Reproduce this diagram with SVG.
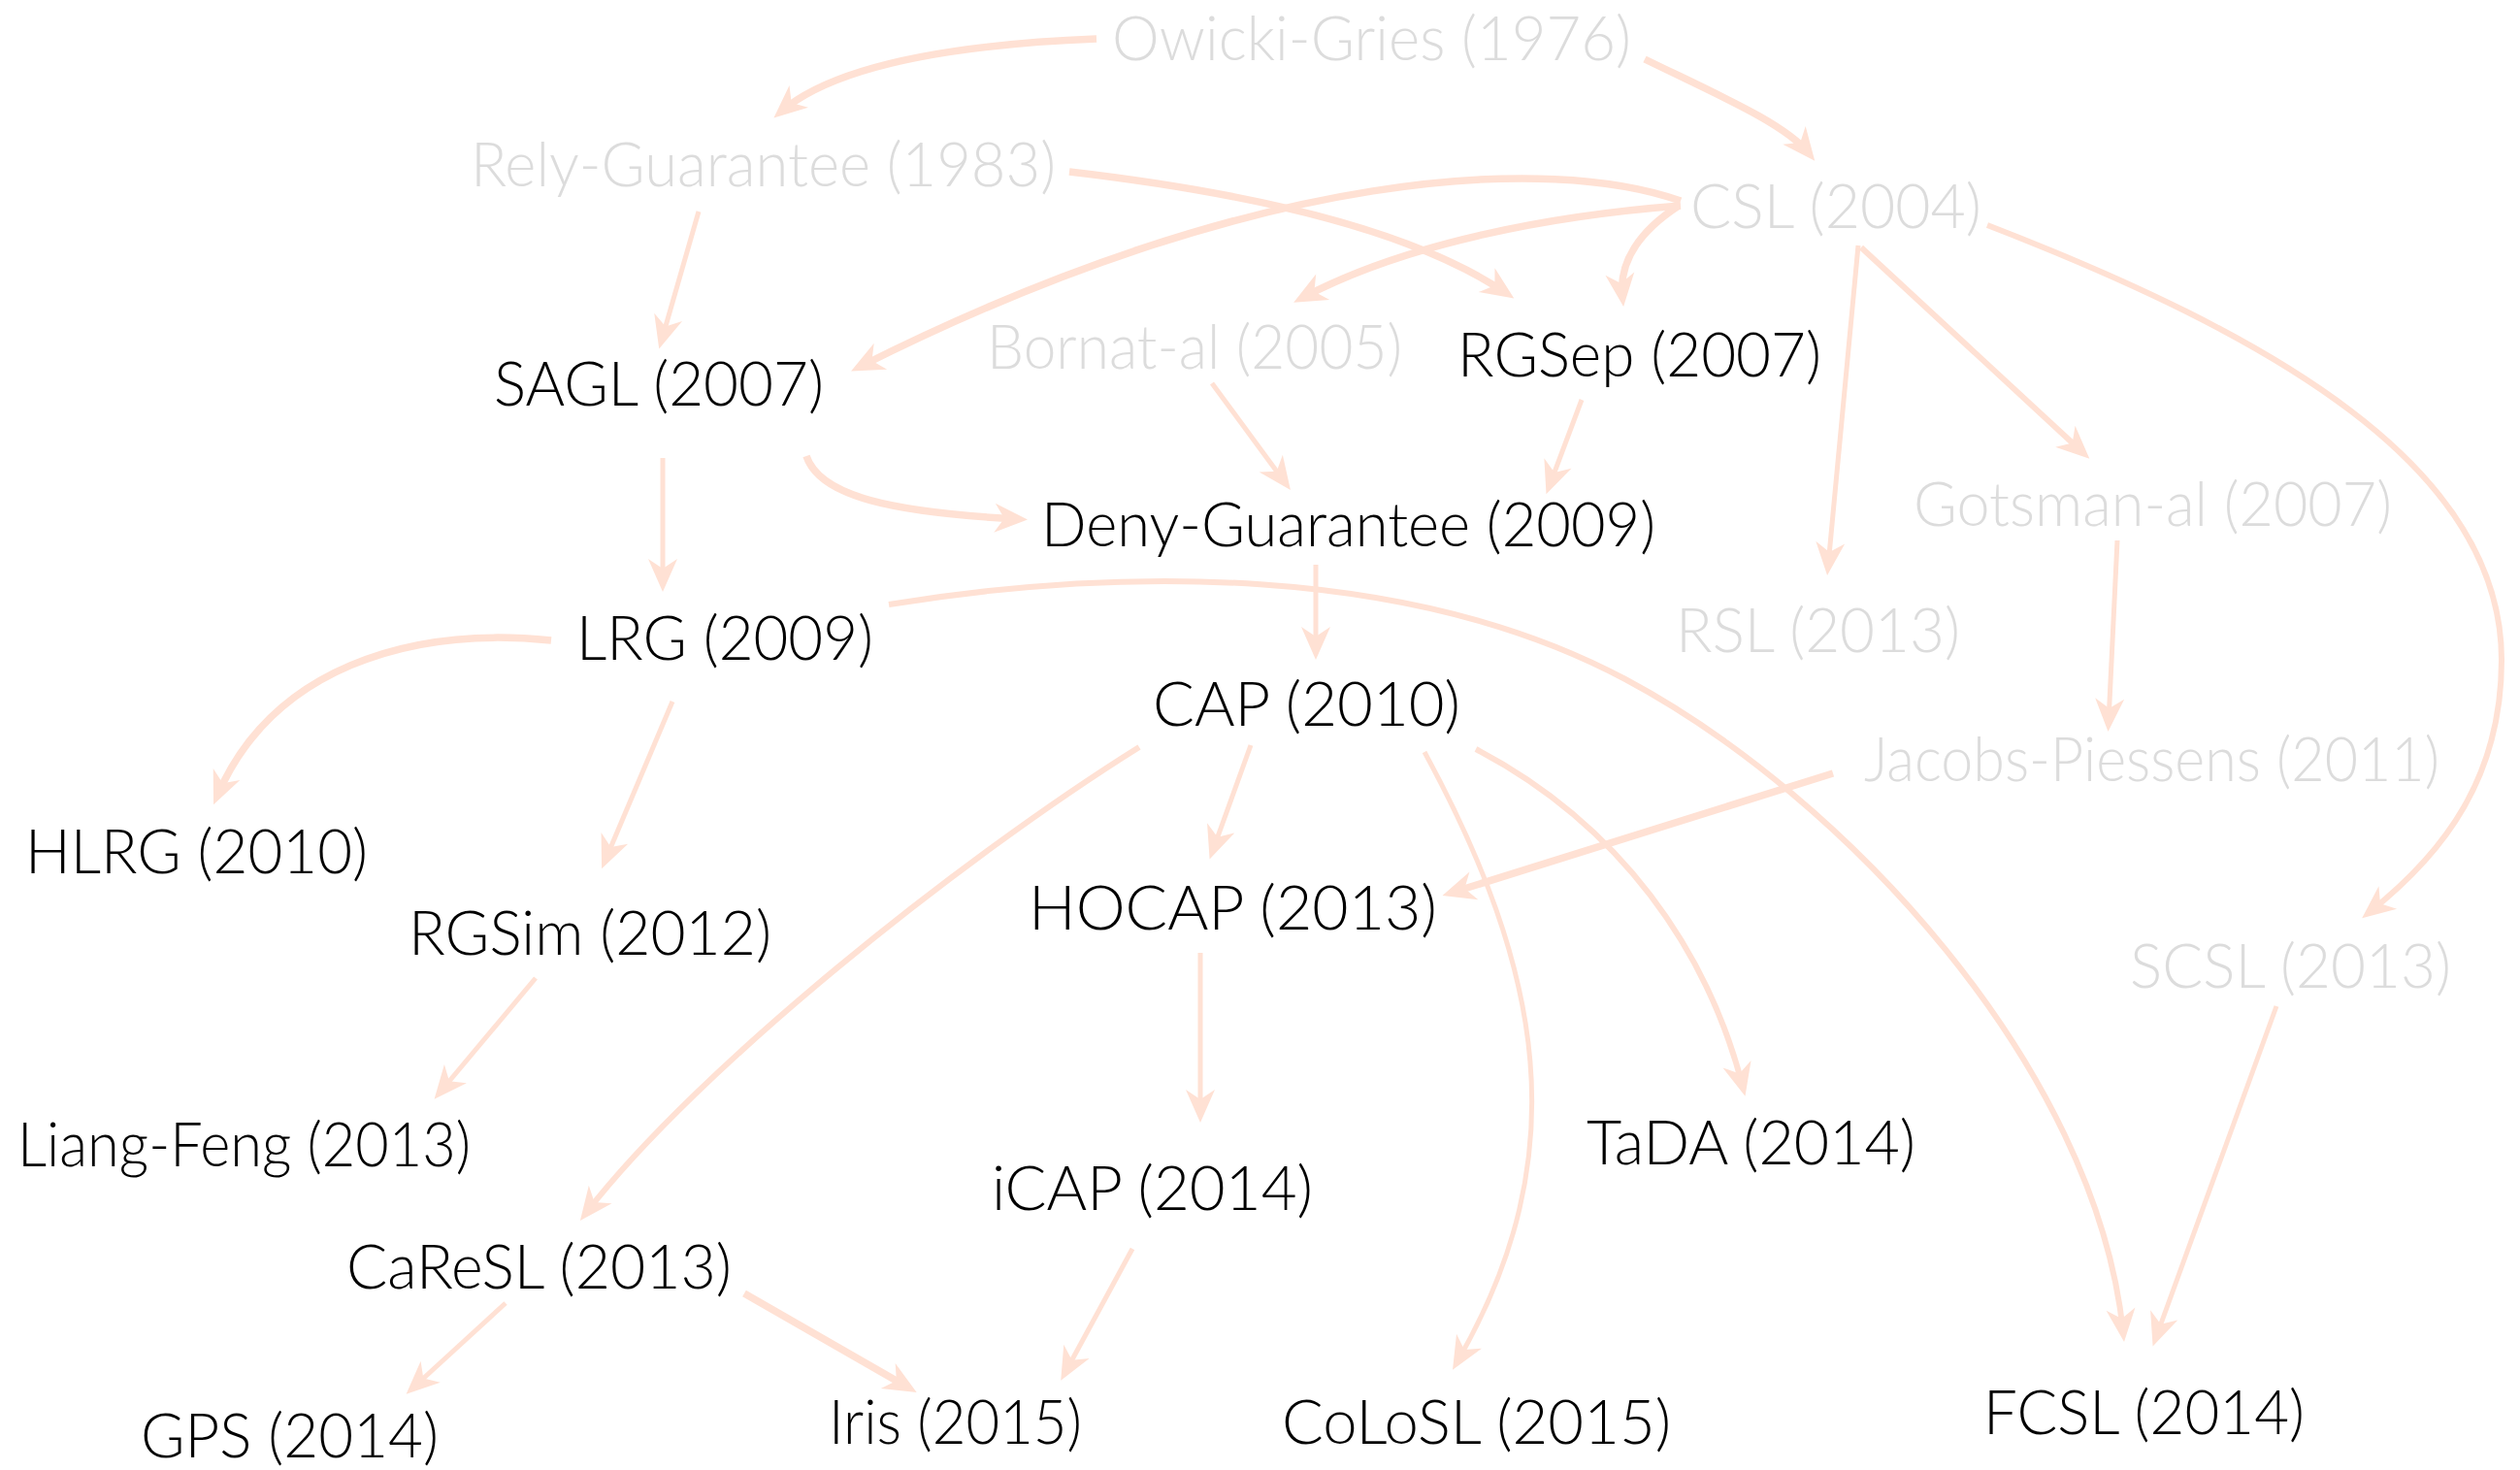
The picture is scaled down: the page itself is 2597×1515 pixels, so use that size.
<svg xmlns="http://www.w3.org/2000/svg" width="2597" height="1515" viewBox="0 0 2597 1515">
  <defs>
    <style>
      .lbl { font-family: "Lato", "Open Sans", "Liberation Sans", sans-serif; font-weight: 300; font-size: 63px; }
      .on { fill: #000000; }
      .off { fill: #DCDCDC; }
      .e { fill: none; stroke: #FFE1D4; stroke-linecap: butt; marker-end: url(#head); }
      .w1 { stroke-width: 5; }
      .w2 { stroke-width: 6; }
      .w3 { stroke-width: 7.5; }
    </style>
    <marker id="head" markerUnits="userSpaceOnUse" markerWidth="60" markerHeight="40" refX="30" refY="20" orient="auto">
      <path d="M40,20 L6,5 L16,20 L6,35 Z" fill="#FFE1D4"/>
    </marker>
  </defs>

  <rect x="0" y="0" width="2597" height="1515" fill="#FFFFFF"/>

  <!-- connectors -->
  <g id="edges">
    <path class="e w3" d="M1130,40 C980,46 860,68 805,115"/>
    <path class="e w3" d="M1695,61 C1775,100 1840,128 1864,158"/>
    <path class="e w3" d="M1102,177 C1300,200 1460,240 1552,302"/>
    <path class="e w3" d="M1732,207 C1600,160 1300,170 886,378"/>
    <path class="e w3" d="M1732,212 C1600,222 1450,250 1342,307"/>
    <path class="e w3" d="M1730,212 C1690,238 1668,270 1672,306"/>
    <path class="e w1" d="M1915,253 L1884,583"/>
    <path class="e w2" d="M1918,255 L2146,466"/>
    <path class="e w2" d="M2048,232 C2340,345 2578,480 2578,680 C2578,800 2520,878 2442,940"/>
    <path class="e w1" d="M1249,395 L1324,497"/>
    <path class="e w1" d="M1630,412 L1597,500"/>
    <path class="e w1" d="M720,218 L682,350"/>
    <path class="e w1" d="M683,472 L683,600"/>
    <path class="e w3" d="M831,470 C845,512 920,528 1049,535"/>
    <path class="e w1" d="M1356,582 L1356,670"/>
    <path class="e w2" d="M916,623 C1150,585 1450,580 1675,700 C1900,820 2160,1100 2188,1373"/>
    <path class="e w3" d="M568,660 C420,645 280,690 224,820"/>
    <path class="e w1" d="M693,723 L624,886"/>
    <path class="e w1" d="M1289,768 L1250,876"/>
    <path class="e w2" d="M1174,770 C990,885 720,1100 604,1250"/>
    <path class="e w1" d="M1468,775 C1590,1000 1625,1190 1502,1403"/>
    <path class="e w2" d="M1521,772 C1670,850 1760,980 1796,1120"/>
    <path class="e w3" d="M1889,797 L1496,920"/>
    <path class="e w1" d="M2182,557 L2173,744"/>
    <path class="e w1" d="M2346,1037 L2222,1378"/>
    <path class="e w1" d="M1237,982 L1237,1147"/>
    <path class="e w1" d="M552,1008 L454,1125"/>
    <path class="e w1" d="M1167,1287 L1098,1414"/>
    <path class="e w1" d="M521,1343 L426,1430"/>
    <path class="e w3" d="M767,1333 L936,1430"/>
  </g>

  <!-- nodes -->
  <g id="node-owicki-gries"><text class="lbl off" x="1146" y="62" textLength="535" lengthAdjust="spacingAndGlyphs">Owicki-Gries (1976)</text></g>
  <g id="node-rely-guarantee"><text class="lbl off" x="485" y="192" textLength="603" lengthAdjust="spacingAndGlyphs">Rely-Guarantee (1983)</text></g>
  <g id="node-csl"><text class="lbl off" x="1742" y="235" textLength="300" lengthAdjust="spacingAndGlyphs">CSL (2004)</text></g>
  <g id="node-sagl"><text class="lbl on" x="509" y="418" textLength="340" lengthAdjust="spacingAndGlyphs">SAGL (2007)</text></g>
  <g id="node-bornat-al"><text class="lbl off" x="1017" y="380" textLength="428" lengthAdjust="spacingAndGlyphs">Bornat-al (2005)</text></g>
  <g id="node-rgsep"><text class="lbl on" x="1502" y="388" textLength="375" lengthAdjust="spacingAndGlyphs">RGSep (2007)</text></g>
  <g id="node-deny-guarantee"><text class="lbl on" x="1073" y="563" textLength="633" lengthAdjust="spacingAndGlyphs">Deny-Guarantee (2009)</text></g>
  <g id="node-gotsman-al"><text class="lbl off" x="1972" y="542" textLength="493" lengthAdjust="spacingAndGlyphs">Gotsman-al (2007)</text></g>
  <g id="node-lrg"><text class="lbl on" x="594" y="680" textLength="306" lengthAdjust="spacingAndGlyphs">LRG (2009)</text></g>
  <g id="node-rsl"><text class="lbl off" x="1727" y="672" textLength="293" lengthAdjust="spacingAndGlyphs">RSL (2013)</text></g>
  <g id="node-cap"><text class="lbl on" x="1188" y="748" textLength="317" lengthAdjust="spacingAndGlyphs">CAP (2010)</text></g>
  <g id="node-jacobs-piessens"><text class="lbl off" x="1921" y="805" textLength="593" lengthAdjust="spacingAndGlyphs">Jacobs-Piessens (2011)</text></g>
  <g id="node-hlrg"><text class="lbl on" x="26" y="900" textLength="353" lengthAdjust="spacingAndGlyphs">HLRG (2010)</text></g>
  <g id="node-rgsim"><text class="lbl on" x="421" y="984" textLength="374" lengthAdjust="spacingAndGlyphs">RGSim (2012)</text></g>
  <g id="node-hocap"><text class="lbl on" x="1060" y="958" textLength="421" lengthAdjust="spacingAndGlyphs">HOCAP (2013)</text></g>
  <g id="node-scsl"><text class="lbl off" x="2195" y="1018" textLength="331" lengthAdjust="spacingAndGlyphs">SCSL (2013)</text></g>
  <g id="node-liang-feng"><text class="lbl on" x="18" y="1202" textLength="467" lengthAdjust="spacingAndGlyphs">Liang-Feng (2013)</text></g>
  <g id="node-tada"><text class="lbl on" x="1635" y="1200" textLength="339" lengthAdjust="spacingAndGlyphs">TaDA (2014)</text></g>
  <g id="node-icap"><text class="lbl on" x="1022" y="1247" textLength="331" lengthAdjust="spacingAndGlyphs">iCAP (2014)</text></g>
  <g id="node-caresl"><text class="lbl on" x="357" y="1328" textLength="397" lengthAdjust="spacingAndGlyphs">CaReSL (2013)</text></g>
  <g id="node-gps"><text class="lbl on" x="145" y="1502" textLength="307" lengthAdjust="spacingAndGlyphs">GPS (2014)</text></g>
  <g id="node-iris"><text class="lbl on" x="854" y="1488" textLength="261" lengthAdjust="spacingAndGlyphs">Iris (2015)</text></g>
  <g id="node-colosl"><text class="lbl on" x="1321" y="1488" textLength="401" lengthAdjust="spacingAndGlyphs">CoLoSL (2015)</text></g>
  <g id="node-fcsl"><text class="lbl on" x="2044" y="1478" textLength="331" lengthAdjust="spacingAndGlyphs">FCSL (2014)</text></g>
</svg>
